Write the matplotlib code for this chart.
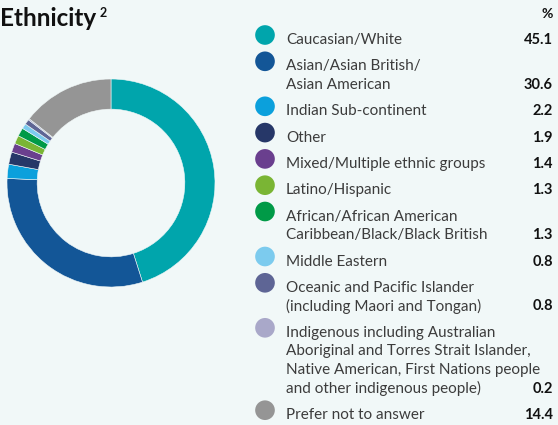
import numpy as np
import matplotlib.pyplot as plt

# data
labels = ["Caucasian/White",
          "Asian/Asian British/\nAsian American",
          "Indian Sub-continent",
          "Other",
          "Mixed/Multiple ethnic groups",
          "Latino/Hispanic",
          "African/African American\nCaribbean/Black/Black British",
          "Middle Eastern",
          "Oceanic and Pacific Islander\n(including Maori and Tongan)",
          "Indigenous including Australian\nAboriginal and Torres Strait Islander,\nNative American, First Nations people\nand other indigenous people)",
          "Prefer not to answer"]
values = [45.1, 30.6, 2.2, 1.9, 1.4, 1.3, 1.3, 0.8, 0.8, 0.2, 14.4]
colors = ["#00a5ac", "#135697", "#0ba0dc", "#263768", "#6a3f8e", "#7ab534",
          "#009a47", "#7ccbee", "#5e6595", "#a9a8c9", "#959595"]

bg = "#f1f8f8"
W, H = 558, 425
fig = plt.figure(figsize=(W / 100, H / 100), dpi=100, facecolor=bg)

# donut: centre (111,183), radius 104 px
cx, cy, r = 111, 183, 104
ax = fig.add_axes([(cx - r) / W, (H - cy - r) / H, 2 * r / W, 2 * r / H])
ax.set_facecolor(bg)
ax.pie(values, colors=colors, startangle=90, counterclock=False, radius=1,
       wedgeprops=dict(width=0.29, edgecolor=bg, linewidth=0.4))
ax.set_xlim(-1, 1)
ax.set_ylim(-1, 1)
ax.set_aspect("auto")
ax.axis("off")

# overlay in pixel coords for legend
ov = fig.add_axes([0, 0, 1, 1])
ov.set_xlim(0, W)
ov.set_ylim(H, 0)
ov.axis("off")
ov.patch.set_alpha(0)

font = "Lato"
ov.text(0, 26, "Ethnicity", fontsize=17.5, fontweight="bold", family=font,
        color="#111111", va="baseline", ha="left")
ov.text(100, 17, "2", fontsize=9, fontweight="bold", family=font,
        color="#111111", va="baseline", ha="left")
ov.text(553, 18, "%", fontsize=10, fontweight="bold", family=font,
        color="#111111", va="baseline", ha="right")

y = 44
step = 18.7
gap = 26.3
for lab, val, col in zip(labels, values, colors):
    lines = lab.split("\n")
    ov.scatter([265], [y - 9], s=200, color=col, edgecolors="none", zorder=3)
    for k, ln in enumerate(lines):
        ov.text(286, y + k * step, ln, fontsize=11, family=font,
                color="#3c3c3c", va="baseline", ha="left")
    last = y + (len(lines) - 1) * step
    ov.text(553, last, f"{val:.1f}", fontsize=10.5, fontweight="bold",
            family=font, color="#111111", va="baseline", ha="right")
    y = last + gap

fig.savefig("out.png", dpi=100, facecolor=bg)
